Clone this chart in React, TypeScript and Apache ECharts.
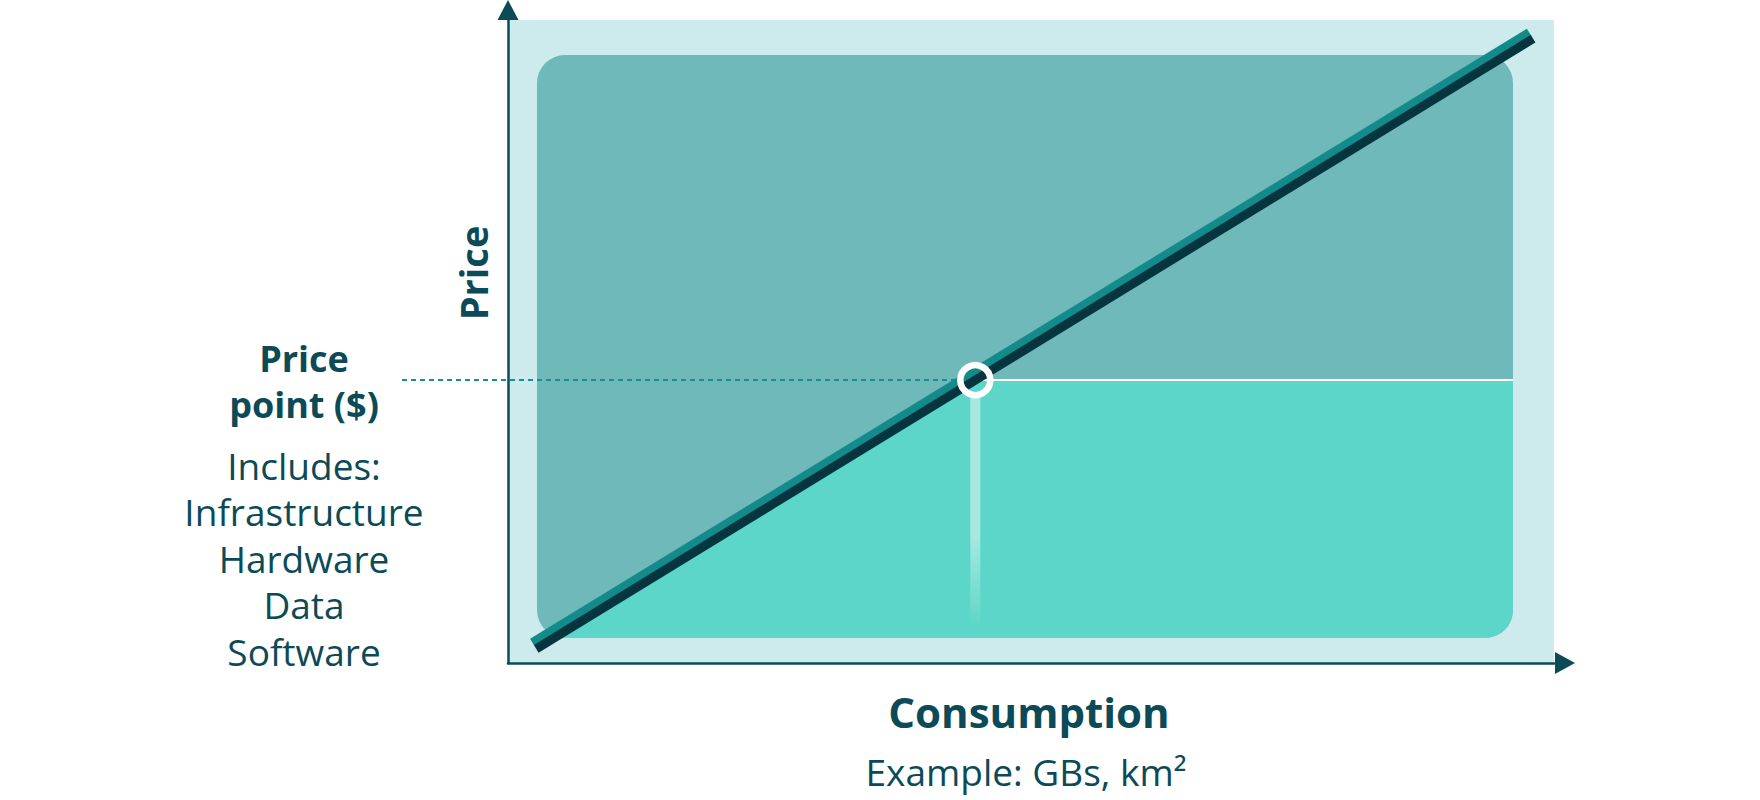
import React, { useEffect, useRef } from 'react'
import * as echarts from 'echarts'

// ---- data ----
const axisRange = [0, 100]
const consumptionEnds = [2.7, 98.0] // line start / end on the consumption axis
const priceEnds = [2.2, 97.1] // line start / end on the price axis
const pricePoint = 44.0

const yTitle = 'Price'
const xTitle = 'Consumption'
const xSubtitle = 'Example: GBs, km²'
const pricePointLabel = ['Price', 'point ($)']
const includesList = ['Includes:', 'Infrastructure', 'Hardware', 'Data', 'Software']

// ---- styles ----
const TEXT = '#0b4a56'
const AXIS = '#0b4a57'
const BOX = '#cdeaed'
const PANEL = '#6fb9bb'
const TURQ = '#5cd6c8'
const LINE_TEAL = '#128b8a'
const LINE_DARK = '#063540'
const DASH = '#1a8e8e'
const FONT = '"Open Sans", "Noto Sans", sans-serif'

// panel insets inside the grid (px)
const inset = { left: 29, right: 41, top: 35, bottom: 25, r: 28 }

export default function App() {
  const chartRef = useRef<HTMLDivElement>(null)

  useEffect(() => {
    if (!chartRef.current) return
    const chart = echarts.init(chartRef.current, null, { renderer: 'svg' })

    const renderItem = (params: any, api: any) => {
      const cs = params.coordSys
      const p0 = api.coord([consumptionEnds[0], priceEnds[0]])
      const p1 = api.coord([consumptionEnds[1], priceEnds[1]])
      const py = api.coord([axisRange[0], pricePoint])[1]
      // x on the line for a given pixel y
      const atY = (y: number) => p0[0] + ((y - p0[1]) * (p1[0] - p0[0])) / (p1[1] - p0[1])
      const cx = atY(py)

      const left = cs.x + inset.left
      const right = cs.x + cs.width - inset.right
      const top = cs.y + inset.top
      const bottom = cs.y + cs.height - inset.bottom
      const xb = atY(bottom)

      const dx = p1[0] - p0[0]
      const dy = p1[1] - p0[1]
      const len = Math.hypot(dx, dy)
      const nx = dy / len
      const ny = -dx / len
      const off = (d: number) => ({
        x1: p0[0] + nx * d,
        y1: p0[1] + ny * d,
        x2: p1[0] + nx * d,
        y2: p1[1] + ny * d,
      })

      return {
        type: 'group',
        children: [
          {
            type: 'rect',
            shape: { x: left, y: top, width: right - left, height: bottom - top, r: inset.r },
            style: { fill: PANEL },
          },
          {
            type: 'polygon',
            shape: { points: [[xb, bottom], [cx, py], [cx + 2, py], [cx + 2, bottom]] },
            style: { fill: TURQ },
          },
          {
            type: 'rect',
            shape: { x: cx, y: py, width: right - cx, height: bottom - py, r: [0, 0, inset.r, 0] },
            style: { fill: TURQ },
          },
          {
            type: 'line',
            shape: { x1: cx, y1: py, x2: right, y2: py },
            style: { stroke: '#ffffff', lineWidth: 2 },
          },
          {
            type: 'rect',
            shape: { x: cx - 5, y: py + 15, width: 10, height: bottom - 10 - (py + 15) },
            style: {
              fill: new echarts.graphic.LinearGradient(0, 0, 0, 1, [
                { offset: 0, color: 'rgba(255,255,255,0.46)' },
                { offset: 0.6, color: 'rgba(255,255,255,0.46)' },
                { offset: 1, color: 'rgba(255,255,255,0)' },
              ]),
            },
          },
          {
            type: 'line',
            shape: { x1: cs.x - 106, y1: py, x2: cx, y2: py },
            style: { stroke: DASH, lineWidth: 2, lineDash: [5, 4] },
          },
          {
            type: 'line',
            shape: off(7.75),
            style: { stroke: LINE_TEAL, lineWidth: 8, lineCap: 'butt' },
          },
          {
            type: 'line',
            shape: off(0),
            style: { stroke: LINE_DARK, lineWidth: 9, lineCap: 'butt' },
          },
          {
            type: 'circle',
            shape: { cx, cy: py, r: 15 },
            style: { fill: 'none', stroke: '#ffffff', lineWidth: 6.5 },
          },
        ],
      }
    }

    const textEl = (text: string, x: number, y: number, size: number, bold: boolean, rotation = 0) => ({
      type: 'text',
      x,
      y,
      rotation,
      style: {
        text,
        fill: TEXT,
        fontFamily: FONT,
        fontSize: size,
        fontWeight: bold ? 'bold' : 'normal',
        align: 'center',
        verticalAlign: 'middle',
      },
    })

    const axisBase = {
      type: 'value',
      min: axisRange[0],
      max: axisRange[1],
      axisTick: { show: false },
      axisLabel: { show: false },
      splitLine: { show: false },
    }

    const option = {
      animation: false,
      backgroundColor: '#ffffff',
      grid: {
        left: 508,
        top: 20,
        width: 1046,
        height: 643,
        show: true,
        backgroundColor: BOX,
        borderWidth: 0,
      },
      xAxis: {
        ...axisBase,
        axisLine: {
          show: true,
          onZero: false,
          symbol: ['none', 'triangle'],
          symbolSize: [22, 20],
          symbolOffset: [0, 11],
          lineStyle: { color: AXIS, width: 2.5 },
        },
      },
      yAxis: {
        ...axisBase,
        axisLine: {
          show: true,
          onZero: false,
          symbol: ['none', 'triangle'],
          symbolSize: [21, 20],
          symbolOffset: [0, 10],
          lineStyle: { color: AXIS, width: 2.5 },
        },
      },
      graphic: [
        textEl(yTitle, 473, 273, 38, true, Math.PI / 2),
        textEl(pricePointLabel[0], 304, 358, 36, true),
        textEl(pricePointLabel[1], 304, 404, 36, true),
        ...includesList.map((t, i) => textEl(t, 304, 465 + i * 46.5, 37, false)),
        textEl(xTitle, 1029, 711, 42, true),
        textEl(xSubtitle, 1026, 771, 37, false),
      ],
      series: [
        {
          type: 'custom',
          coordinateSystem: 'cartesian2d',
          silent: true,
          clip: false,
          z: 3,
          data: [[consumptionEnds[0], priceEnds[0]]],
          renderItem,
        },
      ],
    }

    chart.setOption(option as any)
    return () => chart.dispose()
  }, [])

  return (
    <div
      ref={chartRef}
      style={{ position: 'absolute', left: 0, top: 0, width: 1760, height: 800 }}
    />
  )
}
